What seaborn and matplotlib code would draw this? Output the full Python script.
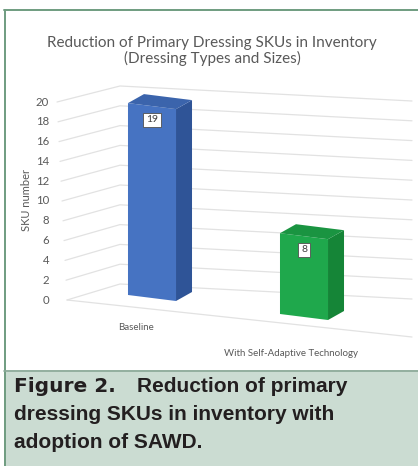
import numpy as np
import matplotlib
matplotlib.use("Agg")
import matplotlib.pyplot as plt
from matplotlib.transforms import Affine2D
from matplotlib.patches import Rectangle
import seaborn as sns

# ---- data ----
categories = ["Baseline", "With Self-Adaptive Technology"]
sku_counts = [19, 8]
bar_colors = ["#4673c2", "#1fa84c"]
side_colors = ["#2f5497", "#158537"]
top_colors = ["#3b64ac", "#1a9441"]
y_ticks = list(range(0, 21, 2))
title_lines = ["Reduction of Primary Dressing SKUs in Inventory",
               "(Dressing Types and Sizes)"]
y_label = "SKU number"
caption_head = "Figure 2."
caption_lines = ["Reduction of primary",
                 "dressing SKUs in inventory with",
                 "adoption of SAWD."]

sns.set_theme(style="white")
plt.rcParams["font.family"] = ["Lato", "DejaVu Sans"]

W, H = 418, 466
fig = plt.figure(figsize=(W / 100, H / 100), dpi=100, facecolor="white")

# ---- background layer in pixel units: frame, caption panel, 3D walls ----
bg = fig.add_axes([0, 0, 1, 1], zorder=0)
bg.set_xlim(0, W)
bg.set_ylim(H, 0)
bg.axis("off")

bg.add_patch(Rectangle((4, 370), W - 4, H - 370, facecolor="#cbdcd2",
                       edgecolor="none", zorder=0))
bg.plot([4.5, 4.5], [9.5, H], color="#6f9c80", lw=1.4, zorder=1)
bg.plot([4, W], [9.5, 9.5], color="#6f9c80", lw=1.4, zorder=1)
bg.plot([4, W], [370.5, 370.5], color="#8aa897", lw=1.2, zorder=1)

# perspective gridlines: side wall + back wall for each tick value
grid_c = "#e2e2e2"
unit = 9.9
for v in y_ticks:
    fx, fy = 67 - 0.5 * v, 300 - unit * v
    bx, by = 120, 284 - unit * v
    rx, ry = 412, 299 - unit * v
    bg.plot([fx, bx, rx], [fy, by, ry], color=grid_c, lw=0.9, zorder=2,
            solid_capstyle="round")
    bg.text(49, fy, str(v), ha="right", va="center", fontsize=8.2,
            color="#595959")
# floor front edge
bg.plot([67, 412], [300, 337], color=grid_c, lw=0.9, zorder=2)

bg.text(27, 200, y_label, rotation=90, ha="center", va="center",
        fontsize=8.0, color="#595959")

for i, name in enumerate(categories):
    bg.text(136 + 155 * i, 327 + 26 * i, name, ha="center", va="center",
            fontsize=7.0, color="#595959")

bg.text(212, 43, title_lines[0], ha="center", va="center", fontsize=11.0,
        color="#595959")
bg.text(212, 58.5, title_lines[1], ha="center", va="center", fontsize=11.0,
        color="#595959")

# caption
cap_font = dict(family=["Liberation Sans", "DejaVu Sans"], weight="bold",
                color="#231f20", fontsize=15.0, va="baseline")
bg.text(14, 392, caption_head, family=["DejaVu Sans"], weight="bold",
        color="#231f20", fontsize=14.5, va="baseline")
bg.text(137, 392, caption_lines[0], **cap_font)
bg.text(14, 420, caption_lines[1], **cap_font)
bg.text(14, 448, caption_lines[2], **cap_font)

# ---- bar layer: categorical x, value y, sheared for the oblique view ----
ax = fig.add_axes([0, 0, 1, 1], zorder=1)
ax.patch.set_alpha(0)
sns.barplot(x=categories, y=sku_counts, hue=categories, palette=bar_colors,
            width=0.316, saturation=1, legend=False, linewidth=0, ax=ax)
px_per_cat, px_per_val = 152.0, 10.1
x0_px, base_px = 152.0, 298.0
ax.set_xlim(-x0_px / px_per_cat, (W - x0_px) / px_per_cat)
ax.set_ylim((base_px - H) / px_per_val, base_px / px_per_val)
ax.axis("off")

slant = -19.0 / px_per_val          # floor drops 19 px per category step
shear = Affine2D(np.array([[1, 0, 0], [slant, 1, 0], [0, 0, 1]]))
tr = shear + ax.transData

dx = 16.0 / px_per_cat               # depth offset of each bar
dv = 9.0 / px_per_val - slant * dx

for i, p in enumerate(ax.patches):
    p.set_transform(tr)
    x0, w, h = p.get_x(), p.get_width(), p.get_height()
    side = [(x0 + w, 0), (x0 + w + dx, dv), (x0 + w + dx, h + dv), (x0 + w, h)]
    top = [(x0, h), (x0 + w, h), (x0 + w + dx, h + dv), (x0 + dx, h + dv)]
    ax.fill(*zip(*side), color=side_colors[i], lw=0, transform=tr, zorder=3)
    ax.fill(*zip(*top), color=top_colors[i], lw=0, transform=tr, zorder=3)
    ax.text(x0 + w / 2, h - 1.35, str(sku_counts[i]), transform=tr,
            ha="center", va="center", fontsize=7.5, color="#404040", zorder=4,
            bbox=dict(boxstyle="square,pad=0.25", fc="white", ec="#505050",
                      lw=0.6))

fig.savefig("out.png", dpi=100, facecolor="white")
